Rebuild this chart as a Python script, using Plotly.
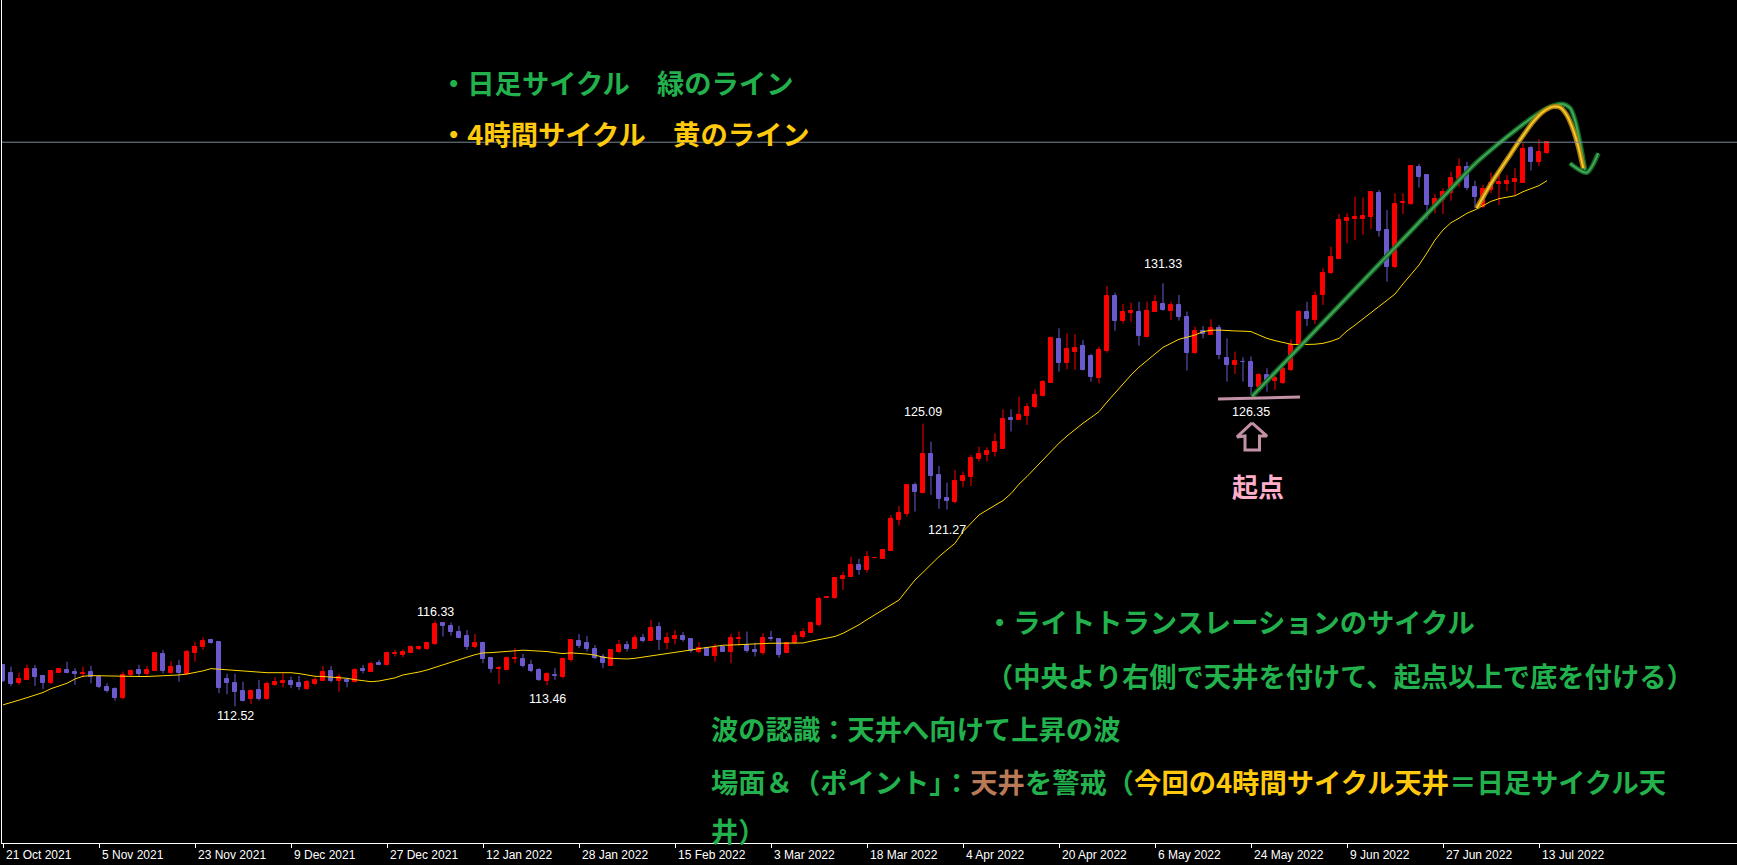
import plotly.graph_objects as go

# ---------------- data ----------------
tick_labels = ["21 Oct 2021", "5 Nov 2021", "23 Nov 2021", "9 Dec 2021", "27 Dec 2021",
               "12 Jan 2022", "28 Jan 2022", "15 Feb 2022", "3 Mar 2022", "18 Mar 2022",
               "4 Apr 2022", "20 Apr 2022", "6 May 2022", "24 May 2022", "9 Jun 2022",
               "27 Jun 2022", "13 Jul 2022"]
bars_per_tick = 12

open_ = [114.34,114.02,113.55,113.70,114.19,113.88,113.58,114.02,114.14,114.05,
         113.96,114.07,113.83,113.37,113.31,112.91,113.91,114.14,113.94,114.11,
         114.85,114.02,114.32,113.97,114.88,115.14,115.48,115.40,113.74,113.57,
         113.21,112.84,113.25,112.84,113.48,113.58,113.65,113.55,113.28,113.52,
         113.67,114.10,113.67,113.70,113.60,114.17,114.07,114.44,114.37,114.86,
         114.82,114.91,115.06,115.06,115.30,116.21,116.10,115.85,115.65,115.18,
         115.36,114.66,114.19,114.14,114.63,114.63,114.36,114.14,113.67,113.92,
         113.85,114.59,115.43,115.36,115.08,114.71,114.32,114.96,115.25,115.08,
         115.58,115.45,116.07,115.36,115.52,115.67,115.52,114.96,115.11,114.74,
         115.14,114.96,115.51,115.25,115.03,114.88,115.58,115.52,114.91,115.33,
         115.60,115.80,116.14,117.33,117.33,118.19,118.29,118.81,118.59,119.10,
         119.08,119.43,120.81,121.08,122.37,121.99,123.74,122.81,121.80,121.60,
         122.56,122.73,123.52,123.70,123.85,123.97,125.33,125.25,125.45,125.82,
         126.34,126.91,128.85,127.80,128.29,128.54,128.10,127.14,128.34,130.77,
         129.67,130.03,130.07,128.93,130.07,130.39,130.11,130.36,129.85,128.25,
         129.21,129.03,129.33,128.02,127.70,127.85,127.85,126.74,127.25,127.00,
         126.88,127.48,128.59,130.07,129.70,130.81,131.77,132.41,134.10,134.19,
         134.19,134.29,135.33,133.70,132.04,134.88,134.85,136.48,136.14,134.81,
         135.03,135.33,135.96,136.48,135.59,134.74,135.48,135.73,135.74,135.85,
         135.80,137.33,136.74,137.12]

high = [114.38,114.29,114.02,114.37,114.37,113.92,114.14,114.19,114.51,114.22,
        114.29,114.32,113.92,113.55,113.37,114.07,114.17,114.37,114.32,114.91,
        115.03,114.54,114.59,115.03,115.40,115.60,115.52,115.40,113.97,113.97,
        113.62,113.28,113.70,113.62,113.82,113.99,113.85,113.88,113.70,113.82,
        114.32,114.32,113.96,113.77,114.22,114.37,114.51,114.59,114.96,115.03,
        115.06,115.22,115.22,115.40,116.33,116.27,116.25,116.10,115.92,115.74,
        115.40,114.69,114.32,114.74,115.11,114.85,114.59,114.22,114.04,114.22,
        114.69,115.51,115.74,115.65,115.25,114.85,115.06,115.48,115.43,115.70,
        115.74,116.37,116.26,115.80,115.92,115.82,115.55,115.37,115.18,115.30,
        115.18,115.74,115.85,115.85,115.36,115.77,115.88,115.55,115.40,115.85,
        115.99,116.29,117.40,117.40,118.25,118.51,119.18,119.08,119.43,119.13,
        119.52,121.03,121.43,122.41,122.47,125.09,124.29,123.21,122.47,123.03,
        122.96,123.70,124.07,124.04,124.66,125.73,125.73,126.29,125.99,126.62,
        127.03,128.96,129.33,129.11,129.07,128.81,128.19,128.51,131.21,130.91,
        130.41,130.47,130.51,130.51,130.81,131.33,130.51,130.81,130.07,129.40,
        129.43,129.73,129.48,128.88,128.29,128.04,128.07,127.33,127.55,127.21,
        127.77,128.84,130.14,130.51,130.96,131.99,132.96,134.41,134.44,135.18,
        135.14,135.40,135.48,134.59,135.33,135.33,136.59,136.63,136.14,135.30,
        135.55,136.29,136.88,136.73,135.88,135.70,136.25,136.22,136.14,136.44,
        137.55,137.43,137.73,137.65]

low = [113.60,113.43,113.48,113.70,113.43,113.28,113.51,114.02,113.99,113.48,
       113.82,113.55,113.33,113.14,112.78,112.84,113.86,113.88,113.89,114.10,
       113.99,113.97,113.62,113.92,114.51,115.03,115.31,113.11,113.06,112.52,
       112.74,112.63,112.78,112.81,113.43,113.36,113.33,113.25,113.25,113.46,
       113.65,113.58,113.18,113.37,113.58,113.99,114.04,114.37,114.34,114.74,
       114.71,114.88,115.03,115.03,115.25,115.63,115.67,115.55,115.03,115.11,
       114.44,114.02,113.52,114.14,114.44,114.26,114.04,113.65,113.46,113.70,
       113.77,114.51,115.11,114.96,114.63,114.22,114.32,114.88,114.96,115.08,
       115.36,115.45,115.03,115.06,115.28,115.40,114.91,114.88,114.77,114.51,
       114.96,114.44,115.21,114.91,114.74,114.81,115.43,114.69,114.88,115.28,
       115.54,115.80,116.07,117.33,117.30,117.70,118.26,118.37,118.47,119.10,
       119.08,119.43,120.56,120.96,121.18,121.99,121.92,121.30,121.27,121.55,
       122.26,122.32,123.40,123.40,123.63,123.97,124.74,125.25,125.03,125.77,
       126.29,126.91,127.40,127.51,127.48,127.45,126.96,126.88,128.25,129.22,
       129.55,129.62,128.56,128.93,130.04,130.11,129.70,129.67,127.45,128.19,
       128.88,129.03,127.95,126.96,127.30,126.96,126.35,126.62,126.51,126.59,
       126.84,127.43,128.56,129.43,129.52,130.36,131.73,132.41,133.11,133.25,
       133.48,133.74,133.40,131.40,132.00,134.41,134.81,135.58,134.17,134.44,
       134.41,135.00,135.62,135.47,134.66,134.69,135.33,134.81,135.43,135.25,
       135.80,136.34,136.54,137.08]

close_ = [113.65,113.52,113.74,114.19,113.85,113.58,114.10,114.19,114.01,113.96,
          114.02,113.82,113.40,113.22,112.91,113.92,114.11,113.94,114.14,114.88,
          114.10,114.29,114.02,114.96,115.18,115.45,115.36,113.36,113.54,113.18,
          112.78,113.21,112.84,113.52,113.62,113.67,113.48,113.37,113.62,113.70,
          114.07,113.67,113.82,113.62,114.14,114.11,114.41,114.38,114.88,114.91,
          114.96,115.14,115.18,115.36,116.19,116.09,115.85,115.58,115.15,115.36,
          114.63,114.19,114.25,114.69,114.69,114.32,114.10,113.70,113.97,113.88,
          114.63,115.48,115.22,115.06,114.69,114.47,115.03,115.25,115.08,115.58,
          115.45,116.02,115.48,115.58,115.67,115.48,114.99,115.11,114.77,115.11,
          114.96,115.58,115.58,115.00,114.96,115.55,115.51,114.81,115.33,115.65,
          115.85,116.22,117.30,117.37,118.23,118.32,118.81,118.59,119.15,119.13,
          119.48,120.85,121.11,122.37,122.07,123.74,122.77,121.74,121.67,122.56,
          122.77,123.55,123.74,123.89,124.28,125.30,125.25,125.48,125.82,126.37,
          126.96,128.88,127.80,128.40,128.47,127.48,127.15,128.37,130.77,129.67,
          130.07,130.10,129.00,130.10,130.48,130.14,130.36,129.85,128.25,129.21,
          129.06,129.33,128.14,127.70,127.88,127.81,126.74,127.25,127.03,127.10,
          127.52,128.59,130.07,129.74,130.78,131.80,132.48,134.14,134.25,134.29,
          134.34,135.40,133.67,132.07,134.85,134.96,136.54,136.07,134.81,135.08,
          135.37,135.99,136.48,135.55,135.15,135.52,135.77,135.82,135.88,135.96,
          137.30,136.74,137.18,137.61]

ma_line = [112.59,112.68,112.80,112.91,113.02,113.14,113.31,113.42,113.55,113.74,
           113.86,113.89,113.88,113.86,113.85,113.85,113.85,113.85,113.85,113.86,
           113.88,113.89,113.92,113.96,114.02,114.10,114.20,114.17,114.14,114.11,
           114.08,114.05,114.02,114.02,114.02,114.02,114.02,113.98,113.92,113.86,
           113.85,113.83,113.82,113.77,113.71,113.65,113.62,113.65,113.73,113.79,
           113.92,113.97,114.05,114.14,114.26,114.38,114.48,114.59,114.71,114.82,
           114.90,114.91,114.94,114.97,115.00,115.02,115.00,114.99,114.96,114.91,
           114.87,114.90,114.88,114.85,114.80,114.71,114.66,114.65,114.63,114.66,
           114.71,114.77,114.81,114.85,114.91,114.97,115.03,115.09,115.14,115.19,
           115.24,115.25,115.27,115.28,115.30,115.33,115.33,115.33,115.33,115.33,
           115.34,115.42,115.48,115.54,115.63,115.77,115.95,116.15,116.38,116.60,
           116.81,117.03,117.25,117.70,118.14,118.48,118.84,119.18,119.48,119.77,
           120.29,120.66,121.03,121.25,121.46,121.67,121.98,122.40,122.74,123.11,
           123.48,123.85,124.22,124.54,124.84,125.11,125.36,125.62,126.05,126.45,
           126.85,127.25,127.60,127.89,128.22,128.48,128.66,128.84,128.93,129.03,
           129.18,129.24,129.25,129.22,129.21,129.20,129.18,129.03,128.88,128.78,
           128.69,128.62,128.60,128.60,128.62,128.66,128.75,128.88,129.21,129.47,
           129.75,130.02,130.33,130.58,130.85,131.30,131.70,132.14,132.68,133.25,
           133.70,134.02,134.22,134.44,134.59,134.77,134.97,135.09,135.15,135.22,
           135.40,135.52,135.67,135.89]

bid_price = 137.60

# zigzag price labels: bar index, value
label_bars = [29, 54, 68, 115, 118, 145, 156]
label_values = [112.52, 116.33, 113.46, 125.09, 121.27, 131.33, 126.35]

# ---------------- styling / layout constants ----------------
UP = "#FF0000"
DN = "#6A5ACD"
MA_COLOR = "#FFD700"
GREEN = "#22B14C"
GOLD = "#FFC90E"
BROWN = "#B97A57"
PINK = "#FFAEC9"
JP_FONT = "Noto Sans CJK JP"
JP_SIZE = 27.3
label_yshift = [-10, 9, -14, 12, -20, 19, -17]

n = len(close_)
idx = list(range(n))
is_up = [c >= o for o, c in zip(open_, close_)]

fig = go.Figure()

for flag, col in ((True, UP), (False, DN)):
    wx, wy = [], []
    bx, bb, bh = [], [], []
    for i in idx:
        if is_up[i] != flag:
            continue
        wx += [i, i, None]
        wy += [low[i], high[i], None]
        bx.append(i)
        bb.append(min(open_[i], close_[i]))
        bh.append(abs(close_[i] - open_[i]))
    fig.add_trace(go.Scatter(x=wx, y=wy, mode="lines", line=dict(color=col, width=1),
                             hoverinfo="skip", showlegend=False))
    fig.add_trace(go.Bar(x=bx, y=bh, base=bb, width=0.55,
                         marker=dict(color=col, line=dict(color=col, width=1)),
                         showlegend=False))

fig.add_trace(go.Scatter(x=idx, y=ma_line, mode="lines",
                         line=dict(color=MA_COLOR, width=1), showlegend=False))

# ---------------- hand-drawn marks (annotation drawings, in data coords) ----------------
green_stroke_x = [156.13, 163.75, 169.63, 175.38, 180.88, 184.13, 186.75, 189.25, 191.25,
                  193.38, 194.88, 195.88, 196.5, 197.13, 197.75]
green_stroke_y = [126.30, 129.12, 131.30, 133.43, 135.48, 136.68, 137.48, 138.19, 138.72,
                  139.17, 139.30, 139.12, 138.59, 137.57, 136.37]
green_head_x = [195.88, 197.96, 199.41]
green_head_y = [136.66, 136.25, 137.11]
gold_stroke_x = [184.21, 185.04, 186.29, 187.96, 189.63, 191.29, 192.54, 193.79, 194.63,
                 195.46, 196.29, 196.91, 197.54]
gold_stroke_y = [134.66, 135.18, 135.92, 136.81, 137.70, 138.51, 138.96, 139.18, 139.15,
                 138.81, 138.14, 137.40, 136.44]
pink_line_x = [151.88, 162.13]
pink_line_y = [126.19, 126.27]
pink_arrow_x = [156.13, 158.0, 157.06, 157.06, 155.25, 155.25, 154.25, 156.13]
pink_arrow_y = [125.12, 124.54, 124.54, 123.92, 123.92, 124.54, 124.50, 125.12]

for xs, ys, outer, inner in (
        (green_stroke_x, green_stroke_y, "rgba(20,105,40,0.95)", "rgba(70,175,90,0.9)"),
        (green_head_x, green_head_y, "rgba(20,105,40,0.95)", "rgba(70,175,90,0.9)"),
        (gold_stroke_x, gold_stroke_y, "rgba(175,125,15,0.95)", "rgba(245,205,40,0.95)")):
    fig.add_trace(go.Scatter(x=xs, y=ys, mode="lines",
                             line=dict(color=outer, width=5, shape="spline", smoothing=0.8),
                             hoverinfo="skip", showlegend=False))
    fig.add_trace(go.Scatter(x=xs, y=ys, mode="lines",
                             line=dict(color=inner, width=2, shape="spline", smoothing=0.8),
                             hoverinfo="skip", showlegend=False))

fig.add_trace(go.Scatter(x=pink_line_x, y=pink_line_y, mode="lines",
                         line=dict(color="rgb(195,145,165)", width=3),
                         hoverinfo="skip", showlegend=False))
fig.add_trace(go.Scatter(x=pink_arrow_x, y=pink_arrow_y, mode="lines",
                         line=dict(color="rgb(195,145,165)", width=3),
                         hoverinfo="skip", showlegend=False))

annotations = []
# date labels (left-aligned to tick like MT4)
for k, t in enumerate(tick_labels):
    annotations.append(dict(x=k * bars_per_tick, y=0, xref="x", yref="paper", text=t,
                            showarrow=False, xanchor="left", yanchor="top", xshift=1, yshift=-3,
                            font=dict(family="Liberation Sans, Arial", size=12, color="white")))
# price labels
for b, v, s in zip(label_bars, label_values, label_yshift):
    annotations.append(dict(x=b, y=v, xref="x", yref="y", text=f"{v:.2f}", showarrow=False,
                            xanchor="center", yanchor="middle", yshift=s,
                            font=dict(family="Liberation Sans, Arial", size=12.5, color="white")))

def jp(text, px, py, color=GREEN, size=JP_SIZE):
    annotations.append(dict(x=(px - 2) / 1735, y=(843 - py) / 843, xref="paper", yref="paper",
                            text=f"<b>{text}</b>", showarrow=False, xanchor="left",
                            yanchor="middle", font=dict(family=JP_FONT, size=size, color=color)))

jp("・日足サイクル　緑のライン", 438, 82)
jp("・4時間サイクル　黄のライン", 438, 133, color=GOLD)
jp("起点", 1230, 486, color=PINK, size=26)
jp("・ライトトランスレーションのサイクル", 984, 621)
jp("（中央より右側で天井を付けて、起点以上で底を付ける）", 984, 675)
jp("波の認識：天井へ向けて上昇の波", 709, 728)
jp("場面＆（ポイント」：<span style='color:%s'>天井</span>を警戒（"
   "<span style='color:%s'>今回の4時間サイクル天井</span>＝日足サイクル天" % (BROWN, GOLD), 709, 781)
jp("井）", 709, 830)

fig.update_layout(
    width=1737, height=865,
    margin=dict(l=2, r=0, t=0, b=22),
    paper_bgcolor="black", plot_bgcolor="black",
    barmode="overlay", bargap=0, showlegend=False,
    xaxis=dict(range=[-0.125, 216.75], showgrid=False, zeroline=False, showline=True,
               linecolor="white", linewidth=1, tickmode="array",
               tickvals=[k * bars_per_tick for k in range(len(tick_labels))],
               ticks="outside", ticklen=4, tickcolor="white", tickwidth=1,
               showticklabels=False),
    yaxis=dict(range=[106.45, 143.92], showgrid=False, zeroline=False, showline=True,
               linecolor="white", linewidth=1, showticklabels=False, ticks=""),
    shapes=[dict(type="line", xref="paper", x0=0, x1=1, yref="y", y0=bid_price, y1=bid_price,
                 line=dict(color="#778899", width=1))],
    annotations=annotations,
)

fig.write_html("out.html", config={"displayModeBar": False},
               post_script="document.body.style.margin='0px';"
                           "document.body.style.overflow='hidden';"
                           "document.body.style.background='black';")
